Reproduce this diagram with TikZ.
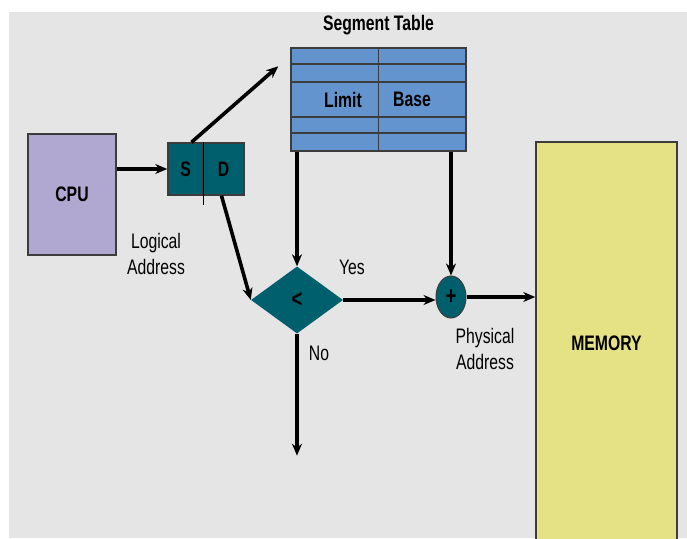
\documentclass[tikz,border=0pt]{standalone}
\usepackage{fontspec}
\setmainfont{Liberation Sans}[FakeStretch=0.75]
\usetikzlibrary{arrows.meta,positioning,shapes.geometric}
\definecolor{bggray}{RGB}{229,229,229}
\definecolor{cpuviolet}{RGB}{176,168,208}
\definecolor{segteal}{RGB}{0,95,108}
\definecolor{tableblue}{RGB}{99,148,205}
\definecolor{memyellow}{RGB}{229,226,134}
\definecolor{edgegray}{RGB}{60,60,60}

\begin{document}
\begin{tikzpicture}[x=1pt,y=1pt,>={Stealth[length=12pt,width=10pt]},on grid,
  box/.style={draw=edgegray,line width=1.5pt,inner sep=0pt},
  flow/.style={->,line width=3.6pt},
  lbl/.style={font=\fontsize{21}{26}\selectfont,align=center},
  bold/.style={font=\fontsize{21}{26}\selectfont\bfseries},
  sign/.style={font=\fontsize{25}{26}\selectfont\bfseries}]
\useasboundingbox (0,0) rectangle (687,538);
\fill[bggray] (9,0) rectangle (687,526);

% memory, cut by the lower edge
\begin{scope}
  \clip (9,0) rectangle (687,526);
  \node[box,bold,fill=memyellow,minimum width=141pt,minimum height=402pt] (mem) at (606.5,195) {MEMORY};
\end{scope}

\node[box,bold,fill=cpuviolet,minimum width=88pt,minimum height=121pt] (cpu) at (72,343.5) {CPU};
\node[box,bold,fill=segteal,minimum width=35pt,minimum height=52pt] (s) [above right=25.5pt and 113.5pt of cpu] {S};
\node[box,bold,fill=segteal,minimum width=41pt,minimum height=52pt] (d) [right=38pt of s] {D};
\draw[line width=1pt] (s.north east) -- ([yshift=-9pt]s.south east);
\node[lbl] (laddr) [below right=59.5pt and 84pt of cpu] {Logical\\Address};

% segment table
\node[box,fill=tableblue,minimum width=175pt,minimum height=103pt] (table) at (378.5,438.5) {};
\foreach \dy in {17,35,70,86}
  \draw[edgegray,line width=1.5pt] ([yshift=-\dy pt]table.north west) -- ([yshift=-\dy pt]table.north east);
\draw[edgegray,line width=1.5pt] (table.north) -- (table.south);
\node[bold] (limit) [left=35.5pt of table] {Limit};
\node[bold] (base) [right=33.5pt of table] {Base};
\node[bold] (title) [above=74.5pt of table] {Segment Table};

\node[diamond,sign,fill=segteal,minimum width=92pt,minimum height=67pt,inner sep=0pt] (cmp) at (297,238) {<};
\node[ellipse,sign,fill=segteal,draw=edgegray,line width=1pt,minimum width=30pt,minimum height=42pt,inner sep=0pt] (add) at (451,241) {+};
\node[lbl] (yes) [above right=33pt and 55pt of cmp] {Yes};
\node[lbl] (no) [below right=53pt and 22pt of cmp] {No};
\node[lbl] (paddr) [below right=52pt and 34pt of add] {Physical\\Address};

\coordinate (tin) at ([shift={(-12pt,-19pt)}]table.north west);
\coordinate (nout) at ([yshift=-122pt]cmp.south);

\draw[flow] (cpu.east |- s.west) -- (s.west);
\draw[flow] ([xshift=6pt]s.north) -- (tin);
\draw[flow] ([xshift=-2pt]d.south) -- (cmp.west);
\draw[flow] (table.south -| cmp.north) -- (cmp.north);
\draw[flow] (table.south -| add.north) -- (add.north);
\draw[flow] (cmp.east) -- (cmp.east -| add.west);
\draw[flow] (add.east) -- (add.east -| mem.west);
\draw[flow] (cmp.south) -- (nout);
\end{tikzpicture}
\end{document}
